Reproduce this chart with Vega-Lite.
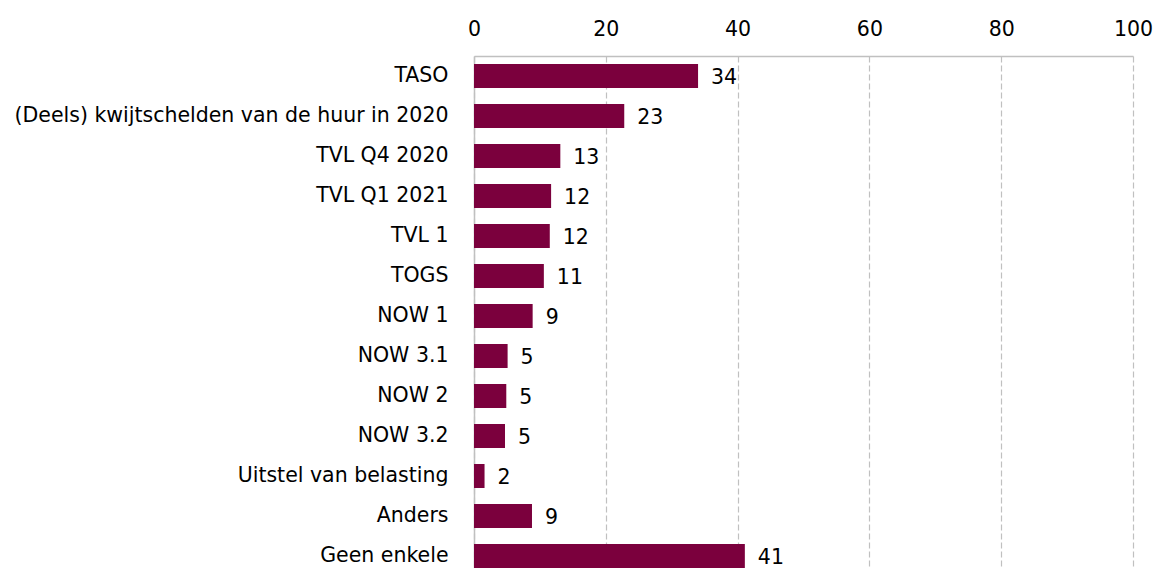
{
  "$schema": "https://vega.github.io/schema/vega-lite/v6.json",
  "width": 659,
  "height": 520,
  "autosize": {"type": "none"},
  "padding": {"left": 474, "top": 56, "right": 22, "bottom": 0},
  "background": "white",
  "config": {
    "view": {"stroke": null},
    "font": "DejaVu Sans"
  },
  "data": {
    "values": [
      {"cat": "TASO", "v": 34.0},
      {"cat": "(Deels) kwijtschelden van de huur in 2020", "v": 22.8},
      {"cat": "TVL Q4 2020", "v": 13.1},
      {"cat": "TVL Q1 2021", "v": 11.7},
      {"cat": "TVL 1", "v": 11.5},
      {"cat": "TOGS", "v": 10.6},
      {"cat": "NOW 1", "v": 8.9},
      {"cat": "NOW 3.1", "v": 5.1},
      {"cat": "NOW 2", "v": 4.9},
      {"cat": "NOW 3.2", "v": 4.7},
      {"cat": "Uitstel van belasting", "v": 1.6},
      {"cat": "Anders", "v": 8.8},
      {"cat": "Geen enkele", "v": 41.1}
    ]
  },
  "encoding": {
    "y": {
      "field": "cat",
      "type": "nominal",
      "sort": null,
      "scale": {"paddingInner": 0.4, "paddingOuter": 0.2},
      "axis": {
        "title": null,
        "ticks": false,
        "labelPadding": 26,
        "labelFontSize": 20.5,
        "labelColor": "#000000",
        "labelFont": "DejaVu Sans",
        "domainColor": "#c0c0c0",
        "domainWidth": 1.5,
        "grid": false,
        "labelLimit": 500
      }
    },
    "x": {
      "field": "v",
      "type": "quantitative",
      "scale": {"domain": [0, 100], "nice": false},
      "axis": {
        "orient": "top",
        "title": null,
        "values": [0, 20, 40, 60, 80, 100],
        "ticks": false,
        "labelFlush": false,
        "labelPadding": 17,
        "labelFontSize": 20.5,
        "labelColor": "#000000",
        "labelFont": "DejaVu Sans",
        "domainColor": "#c0c0c0",
        "domainWidth": 1.5,
        "grid": true,
        "gridColor": "#c0c0c0",
        "gridDash": [6, 3],
        "gridWidth": 1.2
      }
    }
  },
  "layer": [
    {"mark": {"type": "bar", "color": "#7b003d"}},
    {
      "mark": {"type": "text", "align": "left", "baseline": "middle", "dx": 13, "dy": 2, "fontSize": 20.5, "color": "#000000"},
      "encoding": {"text": {"field": "v", "type": "quantitative", "format": ".0f"}}
    }
  ]
}
